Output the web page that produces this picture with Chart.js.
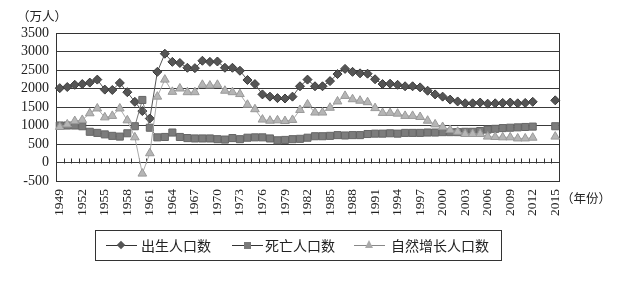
<!DOCTYPE html>
<html>
<head>
<meta charset="utf-8">
<script src="https://cdn.jsdelivr.net/npm/chart.js@4.4.1/dist/chart.umd.min.js"></script>
<style>
  html, body { margin: 0; padding: 0; background: #fff; }
  #wrap { position: relative; width: 620px; height: 297px; overflow: hidden; }
  #chart { position: absolute; left: 0; top: 0; }
  .cap { position: absolute; font-family: "Noto Sans CJK SC", sans-serif; font-size: 12.5px; color: #222; white-space: nowrap; line-height: 16px; }
  #legend { position: absolute; left: 95px; top: 230px; width: 407px; height: 31px; border: 1px solid #333; box-sizing: border-box; }
  .key { position: absolute; top: 14px; height: 0; border-top: 1px solid #333; width: 31px; }
  .mk { position: absolute; }
  .txt { position: absolute; top: 6px; font-family: "Noto Sans CJK SC", sans-serif; font-size: 14px; line-height: 17px; color: #222; white-space: nowrap; }
</style>
</head>
<body>
<div id="wrap">
  <canvas id="chart" width="620" height="297"></canvas>
  <div class="cap" style="left:17px; top:8px;">（万人）</div>
  <div class="cap" style="left:561px; top:190px;">（年份）</div>
  <div id="legend">
    <div class="key" style="left:10px;"></div>
    <div class="mk" style="left:22px; top:11px; width:6px; height:6px; background:#555; transform:rotate(45deg);"></div>
    <div class="txt" style="left:45px;">出生人口数</div>

    <div class="key" style="left:136px;"></div>
    <div class="mk" style="left:148px; top:11px; width:7px; height:7px; background:#7a7a7a;"></div>
    <div class="txt" style="left:169px;">死亡人口数</div>

    <div class="key" style="left:258px; border-top-color:#888;"></div>
    <div class="mk" style="left:269px; top:9px; width:0; height:0; border-left:4.5px solid transparent; border-right:4.5px solid transparent; border-bottom:8px solid #aaa;"></div>
    <div class="txt" style="left:295px;">自然增长人口数</div>
  </div>
</div>
<script>
// categories
const years = [
  '1949','1950','1951','1952','1953','1954','1955','1956','1957','1958',
  '1959','1960','1961','1962','1963','1964','1965','1966','1967','1968',
  '1969','1970','1971','1972','1973','1974','1975','1976','1977','1978',
  '1979','1980','1981','1982','1983','1984','1985','1986','1987','1988',
  '1989','1990','1991','1992','1993','1994','1995','1996','1997','1998',
  '1999','2000','2001','2002','2003','2004','2005','2006','2007','2008',
  '2009','2010','2011','2012','2013','2014','2015'
];

// 出生人口数 (万人)
const births = [
  2010,2040,2100,2120,2160,2240,1970,1960,2150,1900,
  1640,1390,1190,2450,2940,2720,2690,2560,2550,2750,
  2720,2730,2560,2560,2480,2230,2120,1840,1780,1740,
  1730,1780,2060,2240,2060,2060,2200,2390,2530,2450,
  2410,2400,2250,2120,2130,2100,2060,2060,2030,1940,
  1840,1780,1700,1650,1600,1600,1620,1590,1600,1610,
  1620,1600,1610,1640,null,null,1680
];

// 死亡人口数 (万人)
const deaths = [
  1000,1000,1000,980,830,800,760,720,700,790,
  980,1690,940,680,690,810,690,660,650,650,
  650,630,620,660,630,670,680,680,650,600,
  610,630,640,670,710,710,720,740,730,740,
  740,770,780,780,790,780,800,800,800,810,
  810,820,820,820,830,830,850,890,910,930,
  940,950,960,970,null,null,980
];

// 自然增长人口数 (万人)
const natural = [
  960,1030,1120,1150,1330,1460,1220,1260,1460,1140,
  680,-300,250,1780,2240,1910,2000,1900,1900,2100,
  2080,2100,1940,1900,1850,1560,1440,1160,1130,1140,
  1120,1150,1420,1570,1350,1350,1480,1650,1800,1710,
  1670,1630,1470,1340,1340,1320,1260,1260,1230,1130,
  1030,960,880,830,770,770,770,700,690,680,
  680,650,650,670,null,null,700
];

// y axis range / step
const yMin = -500, yMax = 3500, yStep = 500;

// plot frame + small ticks on the zero line
const framePlugin = {
  id: 'framePlugin',
  beforeDatasetsDraw(chart) {
    const ctx = chart.ctx, a = chart.chartArea;
    const x = chart.scales.x, y = chart.scales.y;
    ctx.save();
    ctx.strokeStyle = '#333';
    ctx.lineWidth = 1;
    const y0 = Math.round(y.getPixelForValue(0)) + 0.5;
    ctx.beginPath();
    for (let i = 0; i < years.length - 1; i++) {
      const px = Math.round((x.getPixelForValue(i) + x.getPixelForValue(i + 1)) / 2) + 0.5;
      ctx.moveTo(px, y0);
      ctx.lineTo(px, y0 - 5);
    }
    ctx.stroke();
    ctx.strokeRect(Math.round(a.left) + 0.5, Math.round(a.top) + 0.5,
                   Math.round(a.right - a.left), Math.round(a.bottom - a.top));
    ctx.restore();
  }
};

const ctx = document.getElementById('chart');
new Chart(ctx, {
  type: 'line',
  data: {
    labels: years,
    datasets: [{
      label: '出生人口数',
      data: births,
      order: 2,
      borderColor: '#555',
      borderWidth: 1,
      pointStyle: 'rectRot',
      pointRadius: 4.5,
      pointBackgroundColor: '#555',
      pointBorderColor: '#3a3a3a',
      pointBorderWidth: 1
    }, {
      label: '死亡人口数',
      data: deaths,
      order: 1,
      borderColor: '#777',
      borderWidth: 1,
      pointStyle: 'rect',
      pointRadius: 5,
      pointBackgroundColor: '#7c7c7c',
      pointBorderColor: '#666',
      pointBorderWidth: 1
    }, {
      label: '自然增长人口数',
      data: natural,
      order: 0,
      borderColor: '#aaa',
      borderWidth: 1,
      pointStyle: 'triangle',
      pointRadius: 5,
      pointBackgroundColor: '#b5b5b5',
      pointBorderColor: '#999',
      pointBorderWidth: 1
    }]
  },
  options: {
    responsive: false,
    animation: false,
    devicePixelRatio: 1,
    layout: { padding: { top: 33, right: 61, bottom: 0, left: 0 } },
    plugins: {
      legend: { display: false },
      tooltip: { enabled: false }
    },
    scales: {
      x: {
        offset: true,
        grid: { display: false, drawTicks: false },
        border: { display: false },
        ticks: {
          autoSkip: false,
          minRotation: 90,
          maxRotation: 90,
          padding: 8,
          color: '#222',
          font: { family: '"Liberation Serif", serif', size: 13.5 },
          callback: function(val, index) {
            return index % 3 === 0 ? this.getLabelForValue(val) : '';
          }
        },
        afterFit: function(scale) { scale.height = 116; }
      },
      y: {
        min: yMin,
        max: yMax,
        grid: { color: '#3a3a3a', lineWidth: 1, drawTicks: false },
        border: { display: false },
        ticks: {
          stepSize: yStep,
          autoSkip: false,
          padding: 7,
          color: '#222',
          font: { family: '"Liberation Serif", serif', size: 14 },
          callback: function(val) { return String(val); }
        },
        afterFit: function(scale) { scale.width = 56; }
      }
    }
  },
  plugins: [framePlugin]
});
</script>
</body>
</html>
